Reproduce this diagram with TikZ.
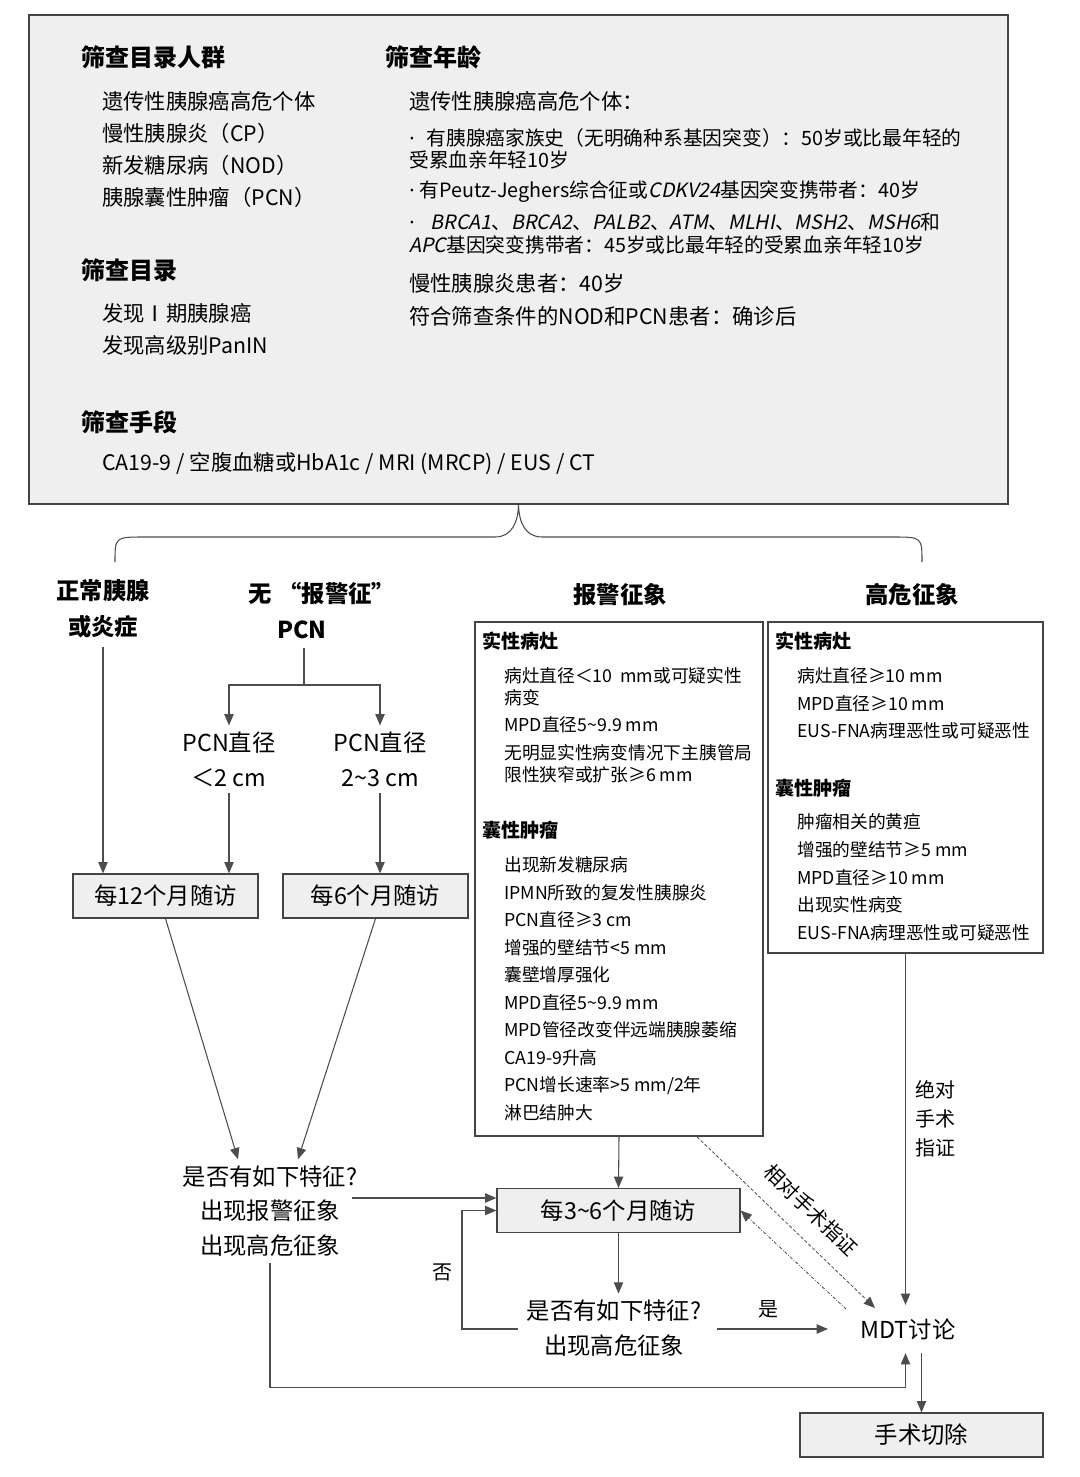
\documentclass[tikz,border=0pt]{standalone}
\usepackage{fontspec}
\setmainfont{Noto Sans CJK SC}
\newfontfamily\genefont{Noto Sans CJK SC}[FakeSlant=0.2]
\newfontfamily\latinfont{Noto Sans}
\usetikzlibrary{arrows.meta,calc,positioning}
\definecolor{kasten}{HTML}{EFEFEF}
\definecolor{rand}{HTML}{444444}
\definecolor{linie}{HTML}{4D4D4D}
\newcommand{\tld}{\textasciitilde}
\newcommand{\gene}[1]{{\genefont #1}}
\newcommand{\dotmark}{{\latinfont ·}}
\tikzstyle{sectitle} = [anchor=west,inner sep=0pt,font=\bfseries\fontsize{18}{22}\selectfont]
\tikzstyle{entry} = [anchor=west,inner sep=0pt,font=\fontsize{16}{20}\selectfont]
\tikzstyle{subentry} = [anchor=west,inner sep=0pt,font=\fontsize{14.8}{18}\selectfont]
\tikzstyle{colhead} = [align=center,inner sep=6pt,font=\bfseries\fontsize{17.5}{27}\selectfont]
\tikzstyle{flowtext} = [align=center,inner sep=4.5pt,font=\fontsize{17.5}{26}\selectfont]
\tikzstyle{sidelabel} = [align=center,inner sep=2pt,font=\fontsize{15}{21.75}\selectfont]
\tikzstyle{listhead} = [anchor=west,inner sep=0pt,font=\bfseries\fontsize{14.3}{17}\selectfont]
\tikzstyle{listentry} = [anchor=west,inner sep=0pt,font=\fontsize{13.3}{16}\selectfont]
\tikzstyle{listbox} = [draw=rand,line width=1.2pt,fill=white,inner sep=0pt]
\tikzstyle{followup} = [draw=rand,line width=0.9pt,fill=kasten,minimum height=33pt,inner sep=0pt,font=\fontsize{17.5}{21}\selectfont]
\tikzstyle{flow} = [-{Triangle[length=8.5pt,width=7pt]},draw=linie,line width=0.8pt]
\tikzstyle{conn} = [draw=linie,line width=0.8pt]

\begin{document}
\begin{tikzpicture}[x=0.75pt,y=-0.75pt]
\useasboundingbox (0,0) rectangle (1080,1477);
\node[draw=rand,fill=kasten,line width=1.3pt,minimum width=734.25pt,minimum height=366.75pt,inner sep=0pt] (screen) at (518.5,259.5) {};

\node[sectitle] at (81,57) {筛查目录人群};
\node[entry] at (102,101) {遗传性胰腺癌高危个体};
\node[entry] at (102,133) {慢性胰腺炎（CP）};
\node[entry] at (102,165) {新发糖尿病（NOD）};
\node[entry] at (102,197) {胰腺囊性肿瘤（PCN）};
\node[sectitle] at (81,270) {筛查目录};
\node[entry] at (102,313) {发现Ⅰ期胰腺癌};
\node[entry] at (102,345) {发现高级别PanIN};
\node[sectitle] at (81,422) {筛查手段};
\node[entry] at (102,464) {CA19-9 / 空腹血糖或HbA1c / MRI (MRCP) / EUS / CT};

\node[sectitle] at (385,57) {筛查年龄};
\node[entry] at (409,101) {遗传性胰腺癌高危个体：};
\node[subentry] at (409,138) {\dotmark\hspace{9pt}有胰腺癌家族史（无明确种系基因突变）：50岁或比最年轻的};
\node[subentry] at (409,160) {受累血亲年轻10岁};
\node[subentry] at (409,192) {\dotmark\hspace{4pt}有Peutz-Jeghers综合征或\gene{CDKV24}基因突变携带者：40岁};
\node[subentry] at (409,222) {\dotmark\hspace{12pt}\gene{BRCA1}、\gene{BRCA2}、\gene{PALB2}、\gene{ATM}、\gene{MLHI}、\gene{MSH2}、\gene{MSH6}和};
\node[subentry] at (409,245) {\gene{APC}基因突变携带者：45岁或比最年轻的受累血亲年轻10岁};
\node[entry] at (409,283) {慢性胰腺炎患者：40岁};
\node[entry] at (409,316) {符合筛查条件的NOD和PCN患者：确诊后};

\coordinate (brace) at (screen.south);
\draw[conn] (115,562) .. controls (115,537) .. (145,537) -- (495,537) .. controls (512,537) and (518,522) .. (brace) .. controls (519,522) and (525,537) .. (542,537) -- (892,537) .. controls (922,537) .. (922,562);

\node[colhead] (normal) at (103,609) {正常胰腺\\或炎症};
\node[colhead] (nopcn) at (322,611) {无\hspace{5pt}“报警征”\\PCN\hspace{30pt}\mbox{}};
\node[colhead] (alarm) at (620,595) {报警征象};
\node[colhead] (high) at (912,595) {高危征象};

\node[flowtext] (pcn1) at (229,759) {PCN直径\\＜2 cm};
\node[flowtext] (pcn2) at (380,759) {PCN直径\\2\tld3 cm};
\node[followup,minimum width=138.75pt] (m12) at (165.5,896) {每12个月随访};
\node[followup,minimum width=138.75pt] (m6) at (375.5,896) {每6个月随访};

\coordinate (split) at (304,685);
\draw[conn] (nopcn.south -| split) -- (split);
\draw[flow] (split) -| (pcn1.north);
\draw[flow] (split) -| (pcn2.north);
\draw[flow] (normal.south) -- (normal.south |- m12.north);
\draw[flow] (pcn1.south) -- (pcn1.south |- m12.north);
\draw[flow] (pcn2.south) -- (pcn2.south |- m6.north);

\node[listbox,minimum width=216pt,minimum height=385.5pt] (alarmbox) at (619,879) {};
\node[listhead] at (482,641) {实性病灶};
\node[listentry] at (504,676) {病灶直径＜10\ \ mm或可疑实性};
\node[listentry] at (504,698) {病变};
\node[listentry] at (504,725) {MPD直径5\tld9.9 mm};
\node[listentry] at (504,753) {无明显实性病变情况下主胰管局};
\node[listentry] at (504,775) {限性狭窄或扩张≥6 mm};
\node[listhead] at (482,830) {囊性肿瘤};
\node[listentry] at (504,865) {出现新发糖尿病};
\node[listentry] at (504,893) {IPMN所致的复发性胰腺炎};
\node[listentry] at (504,920) {PCN直径≥3 cm};
\node[listentry] at (504,948) {增强的壁结节<5 mm};
\node[listentry] at (504,975) {囊壁增厚强化};
\node[listentry] at (504,1003) {MPD直径5\tld9.9 mm};
\node[listentry] at (504,1030) {MPD管径改变伴远端胰腺萎缩};
\node[listentry] at (504,1058) {CA19-9升高};
\node[listentry] at (504,1086) {PCN增长速率>5 mm/2年};
\node[listentry] at (504,1113) {淋巴结肿大};

\node[listbox,minimum width=206.25pt,minimum height=248.25pt] (highbox) at (905.5,787.5) {};
\node[listhead] at (775,641) {实性病灶};
\node[listentry] at (797,676) {病灶直径≥10 mm};
\node[listentry] at (797,704) {MPD直径≥10 mm};
\node[listentry] at (797,731) {EUS-FNA病理恶性或可疑恶性};
\node[listhead] at (775,788) {囊性肿瘤};
\node[listentry] at (797,822) {肿瘤相关的黄疸};
\node[listentry] at (797,850) {增强的壁结节≥5 mm};
\node[listentry] at (797,878) {MPD直径≥10 mm};
\node[listentry] at (797,905) {出现实性病变};
\node[listentry] at (797,933) {EUS-FNA病理恶性或可疑恶性};

\node[flowtext] (q1) at (270,1211) {是否有如下特征?\\出现报警征象\\出现高危征象};
\node[followup,minimum width=182.25pt] (m36) at (618.5,1210.5) {每3\tld6个月随访};
\node[flowtext] (q2) at (614,1328) {是否有如下特征?\\出现高危征象};
\node[flowtext,inner sep=10pt] (mdt) at (908,1329) {MDT讨论};
\node[followup,minimum width=182.25pt] (op) at (921.5,1435) {手术切除};

\draw[flow] (m12.south) -- ($(q1.north)+(-32,0)$);
\draw[flow] (m6.south) -- ($(q1.north)+(28,0)$);
\coordinate (q1out) at (352,1198);
\draw[flow] (q1out) -- (q1out -| m36.west);
\draw[flow] (alarmbox.south) -- (m36.north);
\draw[flow] (m36.south) -- (m36.south |- q2.north);
\coordinate (noout) at (518,1329);
\draw[flow] (noout) -- ++(-56,0) |- (m36.west);
\node[sidelabel] (no) at (442,1272) {否};
\coordinate (yesout) at (717,1329);
\coordinate (yesin) at (828,1329);
\draw[flow] (yesout) -- (yesin);
\node[sidelabel] (yes) at (768,1309) {是};
\draw[flow] (highbox.south) -- (highbox.south |- mdt.north);
\node[sidelabel] (absolute) at (935,1119) {绝对\\手术\\指证};
\coordinate (relout) at ($(alarmbox.south)+(78,0)$);
\coordinate (relin) at (875,1308);
\coordinate (relback) at (846,1309);
\draw[flow,line width=0.6pt,dash pattern=on 2.5pt off 1.5pt] (relout) -- (relin);
\draw[flow,line width=0.6pt,dash pattern=on 2.5pt off 1.2pt on 0.6pt off 1.2pt] (relback) -- (m36.east);
\node[sidelabel,rotate=-44] (relative) at (811,1210) {相对手术指证};
\draw[flow] (q1.south) -- ++(0,125) -| (mdt.south -| highbox.south);
\draw[flow] (mdt.south -| op.north) -- (op.north);
\end{tikzpicture}
\end{document}
